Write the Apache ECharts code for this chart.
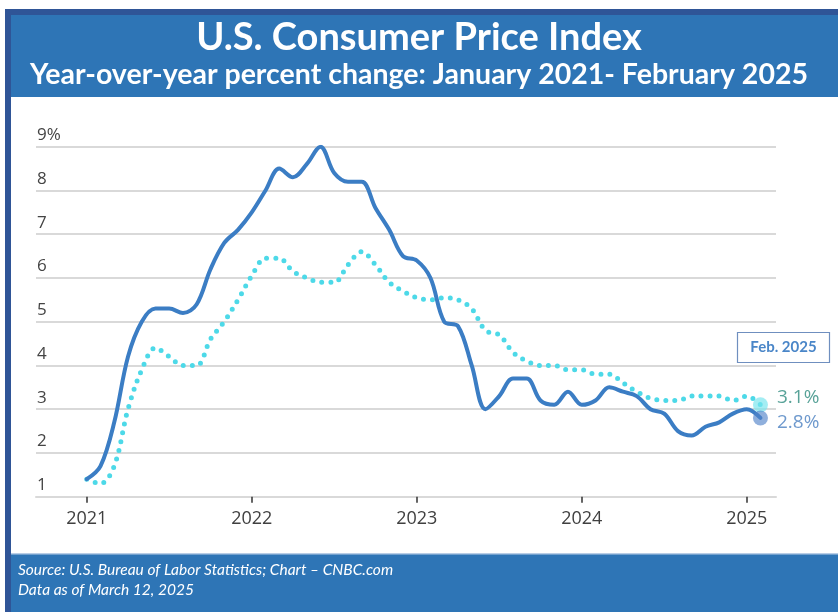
<!DOCTYPE html>
<html>
<head>
<meta charset="utf-8">
<script src="https://cdn.jsdelivr.net/npm/echarts@6/dist/echarts.min.js"></script>
<style>
html,body{margin:0;padding:0;background:#fff;}
#chart{width:838px;height:612px;}
</style>
</head>
<body>
<div id="chart"></div>
<script>
// Months Jan 2021 .. Feb 2025 (index 0..49)
const categories = [
  '2021-01','2021-02','2021-03','2021-04','2021-05','2021-06','2021-07','2021-08','2021-09','2021-10','2021-11','2021-12',
  '2022-01','2022-02','2022-03','2022-04','2022-05','2022-06','2022-07','2022-08','2022-09','2022-10','2022-11','2022-12',
  '2023-01','2023-02','2023-03','2023-04','2023-05','2023-06','2023-07','2023-08','2023-09','2023-10','2023-11','2023-12',
  '2024-01','2024-02','2024-03','2024-04','2024-05','2024-06','2024-07','2024-08','2024-09','2024-10','2024-11','2024-12',
  '2025-01','2025-02'
];
// Headline CPI, year-over-year % (solid line)
const cpiValues = [
  1.4,1.7,2.7,4.2,5.0,5.3,5.3,5.2,5.4,6.2,6.8,7.1,
  7.5,8.0,8.5,8.3,8.6,9.0,8.4,8.2,8.2,7.6,7.1,6.5,
  6.4,6.0,5.0,4.9,4.0,3.0,3.3,3.7,3.7,3.2,3.1,3.4,
  3.1,3.2,3.5,3.4,3.3,3.0,2.9,2.5,2.4,2.6,2.7,2.9,
  3.0,2.8
];
// Core CPI, year-over-year % (dotted line)
const coreValues = [
  1.4,1.3,1.7,3.0,3.9,4.4,4.2,4.0,4.0,4.6,5.0,5.5,
  6.05,6.45,6.45,6.15,6.0,5.9,5.9,6.3,6.6,6.3,5.9,5.7,
  5.55,5.5,5.55,5.5,5.3,4.8,4.7,4.3,4.1,4.0,4.0,3.9,
  3.9,3.8,3.8,3.6,3.4,3.25,3.2,3.2,3.3,3.3,3.3,3.2,
  3.3,3.1
];
const yearTickMonths = ['2021-01','2022-01','2023-01','2024-01','2025-01'];
const yearTickLabels = ['2021','2022','2023','2024','2025'];
const yTickLabels = {1:'1',2:'2',3:'3',4:'4',5:'5',6:'6',7:'7',8:'8',9:'9%'};

const idx = c => categories.indexOf(c);
const cpiData = cpiValues.map((v,i)=>[i,v]);
const coreData = coreValues.map((v,i)=>[i,v]);
const last = categories.length - 1;
const yearTickPos = yearTickMonths.map(idx);

const chart = echarts.init(document.getElementById('chart'), null, {renderer:'canvas'});
const FONT = '"Open Sans", Lato, sans-serif';

chart.setOption({
  animation: false,
  backgroundColor: '#ffffff',
  graphic: [
    {type:'rect', z:-10, shape:{x:5,y:9,width:833,height:603}, style:{fill:'#2f5597'}},
    {type:'rect', z:-9, shape:{x:11,y:15,width:827,height:597}, style:{fill:'#2e75b6'}},
    {type:'rect', z:-8, shape:{x:11,y:97,width:827,height:457}, style:{fill:'#ffffff'}},
    {type:'rect', z:-7, shape:{x:11,y:553,width:827,height:1.5}, style:{fill:'#b8cde6'}},
    {type:'text', z:5, left:'center', top:19,
      style:{text:'U.S. Consumer Price Index', fill:'#ffffff', font:'bold 38px Lato, "Open Sans", sans-serif'}},
    {type:'text', z:5, left:'center', top:60,
      style:{text:'Year-over-year percent change: January 2021- February 2025', fill:'#ffffff', font:'bold 28.5px Lato, "Open Sans", sans-serif'}},
    {type:'text', z:5, left:18, top:562,
      style:{text:'Source: U.S. Bureau of Labor Statistics; Chart \u2013 CNBC.com', fill:'#ffffff', font:'italic 15.5px Lato, sans-serif'}},
    {type:'text', z:5, left:18, top:582,
      style:{text:'Data as of March 12, 2025', fill:'#ffffff', font:'italic 15.5px Lato, sans-serif'}},
    {type:'rect', z:5, shape:{x:737.5,y:332.5,width:92,height:30}, style:{fill:'#ffffff', stroke:'#6f8fbf', lineWidth:1.2}},
    {type:'text', z:6, x:783.5, y:347.5,
      style:{text:'Feb. 2025', fill:'#4a86c8', font:'bold 15px Lato, sans-serif', align:'center', verticalAlign:'middle'}}
  ],
  grid: {left:36, right:62, top:146.7, bottom:115.3, containLabel:false},
  xAxis: {
    type:'value', min:-3.69, max:50.13,
    splitLine:{show:false},
    axisLine:{show:true, lineStyle:{color:'#d9d9d9', width:2}},
    axisTick:{show:true, customValues: yearTickPos, length:6, lineStyle:{color:'#333333', width:1.5}},
    axisLabel:{show:true, customValues: yearTickPos, margin:13,
      color:'#404040', fontFamily:FONT, fontSize:18,
      formatter: v => yearTickLabels[yearTickPos.indexOf(Math.round(v))] || ''}
  },
  yAxis: {
    type:'value', min:1, max:9, interval:1,
    axisLine:{show:false}, axisTick:{show:false},
    splitLine:{show:true, lineStyle:{color:'#d9d9d9', width:2}},
    axisLabel:{inside:true, margin:1, color:'#444444', fontFamily:FONT, fontSize:17,
      verticalAlign:'bottom', padding:[0,0,3,0],
      formatter: v => yTickLabels[v] || ''}
  },
  series: [
    {
      name:'Core CPI', type:'line', data: coreData, smooth:0.35, showSymbol:false, z:3,
      lineStyle:{color:'#4dd9e8', width:5, type:[0,9], cap:'round'}
    },
    {
      name:'CPI', type:'line', data: cpiData, smooth:0.35, showSymbol:false, z:4,
      lineStyle:{color:'#3b7dc4', width:4, cap:'round', join:'round'}
    },
    {
      name:'Core end', type:'scatter', z:5, symbolSize:15,
      data:[[last, coreValues[last]]],
      itemStyle:{color:'rgba(120,228,238,0.85)'},
      label:{show:true, position:'right', distance:9, offset:[0,-7],
        formatter: p => p.value[1].toFixed(1)+'%', color:'#2e8b7e', fontFamily:FONT, fontSize:19}
    },
    {
      name:'CPI end', type:'scatter', z:6, symbolSize:15,
      data:[[last, cpiValues[last]]],
      itemStyle:{color:'rgba(80,130,200,0.8)'},
      label:{show:true, position:'right', distance:9, offset:[0,5],
        formatter: p => p.value[1].toFixed(1)+'%', color:'#4a80c0', fontFamily:FONT, fontSize:19}
    }
  ]
});
</script>
</body>
</html>
